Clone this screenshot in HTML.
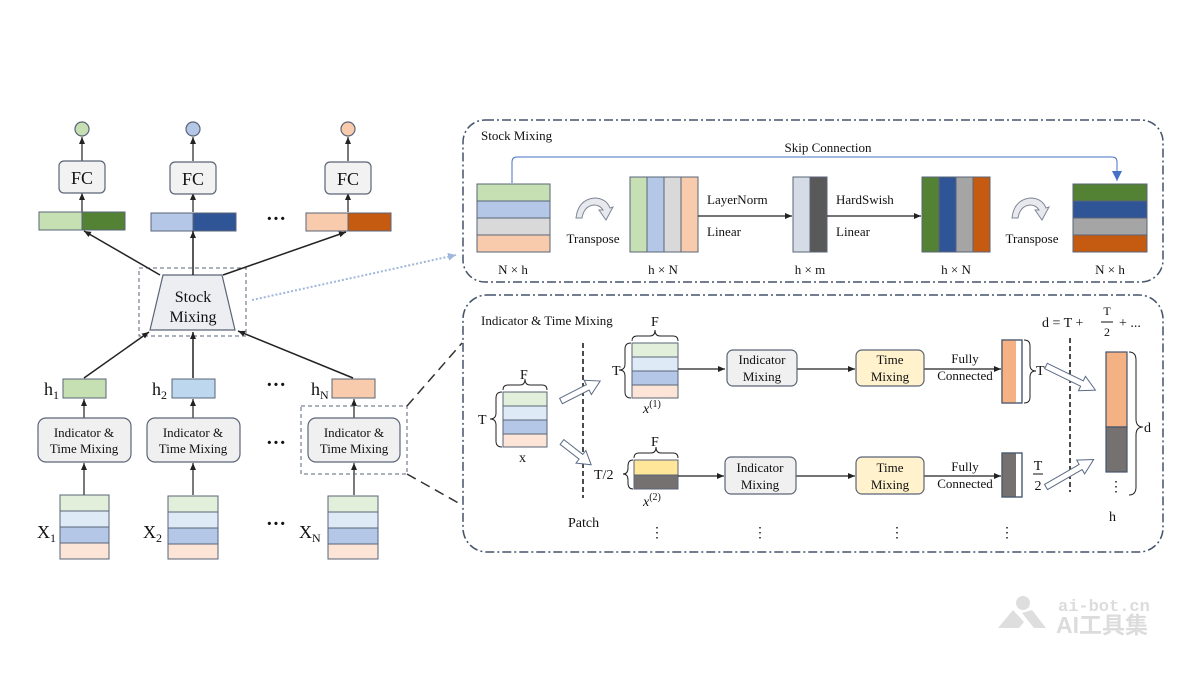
<!DOCTYPE html>
<html><head><meta charset="utf-8"><style>
html,body{margin:0;padding:0;background:#fff}
svg{display:block}
text{font-family:"Liberation Serif","Noto Serif CJK SC",serif;fill:#111}
</style></head><body>
<svg width="1200" height="675" viewBox="0 0 1200 675" xmlns="http://www.w3.org/2000/svg">
<defs>
<marker id="ah" markerWidth="8" markerHeight="8" refX="7" refY="4" orient="auto" markerUnits="userSpaceOnUse"><path d="M0,1 L7,4 L0,7 z" fill="#222"/></marker>
<marker id="ahb" markerWidth="12" markerHeight="12" refX="10" refY="6" orient="auto" markerUnits="userSpaceOnUse"><path d="M0,1 L10,6 L0,11 z" fill="#4472c4"/></marker>
<marker id="ahl" markerWidth="10" markerHeight="10" refX="8" refY="5" orient="auto" markerUnits="userSpaceOnUse"><path d="M0,1 L8,5 L0,9 z" fill="#9fb7da"/></marker>
</defs>

<!-- ===== LEFT ===== -->
<g stroke="#5a6477" stroke-width="1.2">
<circle cx="82" cy="129" r="7" fill="#c6e0b4"/>
<circle cx="193" cy="129" r="7" fill="#b4c7e7"/>
<circle cx="348" cy="129" r="7" fill="#f8cbad"/>
</g>
<g stroke="#222" stroke-width="1.2" marker-end="url(#ah)">
<line x1="82" y1="161" x2="82" y2="137"/><line x1="193" y1="161" x2="193" y2="137"/><line x1="348" y1="161" x2="348" y2="137"/>
<line x1="82" y1="212" x2="82" y2="193"/><line x1="193" y1="212" x2="193" y2="193"/><line x1="348" y1="212" x2="348" y2="193"/>
</g>
<g fill="#f2f2f2" stroke="#5a6477" stroke-width="1.2">
<rect x="59" y="161" width="46" height="32" rx="5"/>
<rect x="170" y="162" width="46" height="32" rx="5"/>
<rect x="325" y="162" width="46" height="32" rx="5"/>
</g>
<g font-size="18" text-anchor="middle"><text x="82" y="184">FC</text><text x="193" y="185">FC</text><text x="348" y="185">FC</text></g>

<g stroke="#5a6477" stroke-width="1">
<rect x="39" y="212" width="43" height="18" fill="#c6e0b4"/><rect x="82" y="212" width="43" height="18" fill="#548235"/>
<rect x="151" y="213" width="42" height="18" fill="#b4c7e7"/><rect x="193" y="213" width="43" height="18" fill="#2f5597"/>
<rect x="306" y="213" width="42" height="18" fill="#f8cbad"/><rect x="348" y="213" width="43" height="18" fill="#c55a11"/>
</g>
<text x="276" y="225" font-size="20" text-anchor="middle" font-weight="bold">···</text>

<rect x="139" y="268" width="107" height="68" fill="none" stroke="#5a6477" stroke-dasharray="4,3"/>
<path d="M163,275 L222,275 L235,330 L150,330 Z" fill="#eceef1" stroke="#5a6477" stroke-width="1.2"/>
<text x="193" y="302" font-size="16" text-anchor="middle">Stock</text>
<text x="193" y="322" font-size="16" text-anchor="middle">Mixing</text>
<g stroke="#222" stroke-width="1.5" marker-end="url(#ah)">
<line x1="160" y1="275" x2="84" y2="231"/>
<line x1="193" y1="275" x2="193" y2="231"/>
<line x1="223" y1="275" x2="346" y2="232"/>
<line x1="84" y1="378" x2="149" y2="332"/>
<line x1="193" y1="378" x2="193" y2="332"/>
<line x1="353" y1="378" x2="238" y2="331"/>
</g>
<line x1="252" y1="300" x2="456" y2="255" stroke="#9fb7da" stroke-width="2" stroke-dasharray="2,2" marker-end="url(#ahl)"/>

<g stroke="#5a6477" stroke-width="1">
<rect x="63" y="379" width="43" height="19" fill="#c6e0b4"/>
<rect x="172" y="379" width="43" height="19" fill="#bdd7ee"/>
<rect x="332" y="379" width="43" height="19" fill="#f8cbad"/>
</g>
<text x="44" y="395" font-size="18">h<tspan font-size="12" dy="4">1</tspan></text>
<text x="152" y="395" font-size="18">h<tspan font-size="12" dy="4">2</tspan></text>
<text x="311" y="395" font-size="18">h<tspan font-size="12" dy="4">N</tspan></text>
<text x="276" y="391" font-size="20" text-anchor="middle" font-weight="bold">···</text>

<g stroke="#222" stroke-width="1.2" marker-end="url(#ah)">
<line x1="84" y1="418" x2="84" y2="399"/><line x1="193" y1="418" x2="193" y2="399"/><line x1="354" y1="418" x2="354" y2="399"/>
<line x1="84" y1="495" x2="84" y2="463"/><line x1="193" y1="495" x2="193" y2="463"/><line x1="354" y1="495" x2="354" y2="463"/>
</g>
<rect x="301" y="406" width="106" height="68" fill="none" stroke="#5a6477" stroke-dasharray="4,3"/>
<g fill="#f0f0f0" stroke="#5a6477" stroke-width="1.2">
<rect x="38" y="418" width="93" height="44" rx="8"/>
<rect x="147" y="418" width="93" height="44" rx="8"/>
<rect x="308" y="418" width="92" height="44" rx="8"/>
</g>
<g font-size="13" text-anchor="middle">
<text x="84" y="437">Indicator &amp;</text><text x="84" y="453">Time Mixing</text>
<text x="193" y="437">Indicator &amp;</text><text x="193" y="453">Time Mixing</text>
<text x="354" y="437">Indicator &amp;</text><text x="354" y="453">Time Mixing</text>
</g>
<text x="276" y="449" font-size="20" text-anchor="middle" font-weight="bold">···</text>

<g stroke="#5a6477" stroke-width="1">
<rect x="60" y="495" width="49" height="16" fill="#e2efda"/><rect x="60" y="511" width="49" height="16" fill="#deebf7"/><rect x="60" y="527" width="49" height="16" fill="#b4c7e7"/><rect x="60" y="543" width="49" height="16" fill="#fce4d6"/>
<rect x="168" y="496" width="50" height="16" fill="#e2efda"/><rect x="168" y="512" width="50" height="16" fill="#deebf7"/><rect x="168" y="528" width="50" height="16" fill="#b4c7e7"/><rect x="168" y="544" width="50" height="15" fill="#fce4d6"/>
<rect x="328" y="496" width="50" height="16" fill="#e2efda"/><rect x="328" y="512" width="50" height="16" fill="#deebf7"/><rect x="328" y="528" width="50" height="16" fill="#b4c7e7"/><rect x="328" y="544" width="50" height="15" fill="#fce4d6"/>
</g>
<text x="37" y="538" font-size="18">X<tspan font-size="12" dy="4">1</tspan></text>
<text x="143" y="538" font-size="18">X<tspan font-size="12" dy="4">2</tspan></text>
<text x="299" y="538" font-size="18">X<tspan font-size="12" dy="4">N</tspan></text>
<text x="276" y="530" font-size="20" text-anchor="middle" font-weight="bold">···</text>

<g stroke="#333" stroke-width="1.5" stroke-dasharray="10,6">
<line x1="407" y1="406" x2="462" y2="343"/>
<line x1="407" y1="474" x2="462" y2="505"/>
</g>

<!-- ===== TOP RIGHT PANEL ===== -->
<rect x="463" y="120" width="700" height="162" rx="22" fill="none" stroke="#44546a" stroke-width="1.5" stroke-dasharray="9,3,2,3"/>
<text x="481" y="140" font-size="13">Stock Mixing</text>
<text x="828" y="152" font-size="13" text-anchor="middle">Skip Connection</text>
<path d="M512,183 L512,162 Q512,157 517,157 L1112,157 Q1117,157 1117,162 L1117,181" fill="none" stroke="#4472c4" stroke-width="1" marker-end="url(#ahb)"/>
<g stroke="#5a6477" stroke-width="1">
<rect x="477" y="184" width="73" height="17" fill="#c6e0b4"/><rect x="477" y="201" width="73" height="17" fill="#b4c7e7"/><rect x="477" y="218" width="73" height="17" fill="#d9d9d9"/><rect x="477" y="235" width="73" height="17" fill="#f8cbad"/>
<rect x="630" y="177" width="17" height="75" fill="#c6e0b4"/><rect x="647" y="177" width="17" height="75" fill="#b4c7e7"/><rect x="664" y="177" width="17" height="75" fill="#d9d9d9"/><rect x="681" y="177" width="17" height="75" fill="#f8cbad"/>
<rect x="793" y="177" width="17" height="75" fill="#d6dce5"/><rect x="810" y="177" width="17" height="75" fill="#595959"/>
<rect x="922" y="177" width="17" height="75" fill="#548235"/><rect x="939" y="177" width="17" height="75" fill="#2f5597"/><rect x="956" y="177" width="17" height="75" fill="#a5a5a5"/><rect x="973" y="177" width="17" height="75" fill="#c55a11"/>
<rect x="1073" y="184" width="74" height="17" fill="#548235"/><rect x="1073" y="201" width="74" height="17" fill="#2f5597"/><rect x="1073" y="218" width="74" height="17" fill="#a5a5a5"/><rect x="1073" y="235" width="74" height="17" fill="#c55a11"/>
</g>
<g stroke="#222" stroke-width="1.2" marker-end="url(#ah)">
<line x1="698" y1="216" x2="792" y2="216"/>
<line x1="827" y1="216" x2="921" y2="216"/>
</g>
<g font-size="13">
<text x="707" y="204">LayerNorm</text><text x="707" y="236">Linear</text>
<text x="836" y="204">HardSwish</text><text x="836" y="236">Linear</text>
<text x="593" y="243" text-anchor="middle">Transpose</text>
<text x="1032" y="243" text-anchor="middle">Transpose</text>
</g>
<g font-size="13" text-anchor="middle">
<text x="513" y="274">N × h</text><text x="663" y="274">h × N</text><text x="810" y="274">h × m</text><text x="956" y="274">h × N</text><text x="1110" y="274">N × h</text>
</g>
<g fill="#e7e9ee" stroke="#7f8796" stroke-width="1">
<path d="M576,218 Q578,200 594,198 Q606,198 610,208 L613,207 L606,220 L599,210 L603,210 Q600,205 594,205 Q584,206 582,218 Z"/>
<path d="M1012,218 Q1014,200 1030,198 Q1042,198 1046,208 L1049,207 L1042,220 L1035,210 L1039,210 Q1036,205 1030,205 Q1020,206 1018,218 Z"/>
</g>

<!-- ===== BOTTOM RIGHT PANEL ===== -->
<rect x="463" y="295" width="700" height="257" rx="24" fill="none" stroke="#44546a" stroke-width="1.5" stroke-dasharray="9,3,2,3"/>
<text x="481" y="325" font-size="13">Indicator &amp; Time Mixing</text>

<g stroke="#5a6477" stroke-width="1">
<rect x="503" y="392" width="44" height="14" fill="#e2efda"/><rect x="503" y="406" width="44" height="14" fill="#deebf7"/><rect x="503" y="420" width="44" height="14" fill="#b4c7e7"/><rect x="503" y="434" width="44" height="13" fill="#fce4d6"/>
<rect x="632" y="343" width="46" height="14" fill="#e2efda"/><rect x="632" y="357" width="46" height="14" fill="#deebf7"/><rect x="632" y="371" width="46" height="14" fill="#b4c7e7"/><rect x="632" y="385" width="46" height="13" fill="#fce4d6"/>
<rect x="634" y="460" width="44" height="15" fill="#ffe699"/><rect x="634" y="475" width="44" height="14" fill="#767171"/>
</g>
<g fill="none" stroke="#222" stroke-width="1">
<path d="M503,390 Q503,385 508,385 L520,385 Q525,385 525,379 Q525,385 530,385 L542,385 Q547,385 547,390"/>
<path d="M502,392 Q496,392 496,398 L496,413 Q496,419 490,419 Q496,419 496,425 L496,441 Q496,447 502,447"/>
<path d="M632,341 Q632,336 637,336 L650,336 Q655,336 655,330 Q655,336 660,336 L673,336 Q678,336 678,341"/>
<path d="M631,343 Q625,343 625,349 L625,364 Q625,370 619,370 Q625,370 625,376 L625,392 Q625,398 631,398"/>
<path d="M634,458 Q634,453 639,453 L651,453 Q656,453 656,447 Q656,453 661,453 L673,453 Q678,453 678,458"/>
<path d="M633,460 Q628,460 628,466 L628,468 Q628,474 623,474 Q628,474 628,480 L628,483 Q628,489 633,489"/>
<path d="M1024,340 Q1030,340 1030,346 L1030,365 Q1030,371 1036,371 Q1030,371 1030,377 L1030,397 Q1030,403 1024,403"/>
<path d="M1129,352 Q1136,352 1136,360 L1136,419 Q1136,427 1143,427 Q1136,427 1136,435 L1136,487 Q1136,495 1129,495"/>
</g>
<g font-size="14">
<text x="520" y="379">F</text><text x="478" y="424">T</text><text x="519" y="462">x</text>
<text x="651" y="326">F</text><text x="612" y="375">T</text>
<text x="651" y="446">F</text><text x="594" y="479">T/2</text>
<text x="1036" y="375">T</text>
<text x="1144" y="432">d</text>
<text x="1109" y="521">h</text>
<text x="568" y="527">Patch</text>
</g>
<text x="643" y="413" font-size="14" font-style="italic">x<tspan font-size="10" font-style="normal" dy="-6">(1)</tspan></text>
<text x="643" y="506" font-size="14" font-style="italic">x<tspan font-size="10" font-style="normal" dy="-6">(2)</tspan></text>

<line x1="583" y1="343" x2="583" y2="498" stroke="#111" stroke-width="1.5" stroke-dasharray="5,3"/>
<line x1="1070" y1="338" x2="1070" y2="492" stroke="#111" stroke-width="1.5" stroke-dasharray="5,3"/>

<g fill="#fff" stroke="#5a6a85" stroke-width="1">
<polygon points="0,-3 30,-3 30,-8 44,0 30,8 30,3 0,3" transform="translate(561,401) rotate(-27)"/>
<polygon points="0,-3 24,-3 24,-8 37,0 24,8 24,3 0,3" transform="translate(562,442) rotate(38)"/>
<polygon points="0,-3 40,-3 40,-8 55,0 40,8 40,3 0,3" transform="translate(1046,366) rotate(26)"/>
<polygon points="0,-3 40,-3 40,-8 55,0 40,8 40,3 0,3" transform="translate(1046,487) rotate(-30)"/>
</g>

<g stroke="#222" stroke-width="1.2" marker-end="url(#ah)">
<line x1="678" y1="369" x2="725" y2="369"/>
<line x1="797" y1="369" x2="855" y2="369"/>
<line x1="924" y1="369" x2="1001" y2="369"/>
<line x1="678" y1="476" x2="724" y2="476"/>
<line x1="796" y1="476" x2="855" y2="476"/>
<line x1="924" y1="476" x2="1001" y2="476"/>
</g>
<g stroke="#5a6477" stroke-width="1.2">
<rect x="727" y="350" width="70" height="36" rx="6" fill="#f0f0f0"/>
<rect x="856" y="350" width="68" height="36" rx="6" fill="#fff2cc"/>
<rect x="725" y="457" width="71" height="37" rx="6" fill="#f0f0f0"/>
<rect x="856" y="457" width="68" height="37" rx="6" fill="#fff2cc"/>
</g>
<g font-size="13" text-anchor="middle">
<text x="762" y="364">Indicator</text><text x="762" y="381">Mixing</text>
<text x="890" y="364">Time</text><text x="890" y="381">Mixing</text>
<text x="760" y="472">Indicator</text><text x="760" y="489">Mixing</text>
<text x="890" y="472">Time</text><text x="890" y="489">Mixing</text>
<text x="965" y="363">Fully</text><text x="965" y="380">Connected</text>
<text x="965" y="471">Fully</text><text x="965" y="488">Connected</text>
</g>
<g stroke="#44546a" stroke-width="1.2">
<rect x="1002" y="340" width="20" height="63" fill="#fff"/><rect x="1002" y="340" width="14" height="63" fill="#f4b183" stroke="none"/><rect x="1002" y="340" width="20" height="63" fill="none"/>
<rect x="1002" y="453" width="20" height="44" fill="#fff"/><rect x="1002" y="453" width="14" height="44" fill="#767171" stroke="none"/><rect x="1002" y="453" width="20" height="44" fill="none"/>
<rect x="1106" y="352" width="21" height="75" fill="#f4b183"/>
<rect x="1106" y="427" width="21" height="45" fill="#767171"/>
</g>
<g font-size="14" text-anchor="middle">
<text x="1038" y="470">T</text><line x1="1033" y1="474" x2="1043" y2="474" stroke="#111"/><text x="1038" y="490">2</text>
<text x="1116" y="491">⋮</text>
<text x="657" y="537">⋮</text><text x="760" y="537">⋮</text><text x="897" y="537">⋮</text><text x="1007" y="537">⋮</text>
</g>
<text x="1042" y="327" font-size="14">d = T +</text>
<g font-size="12" text-anchor="middle"><text x="1107" y="315">T</text><text x="1107" y="336">2</text></g>
<line x1="1101" y1="322" x2="1113" y2="322" stroke="#111"/>
<text x="1119" y="327" font-size="14">+ ...</text>

<g fill="#dedede">
<circle cx="1023" cy="603" r="7"/>
<path d="M998,628 L1013,610 L1024,622 L1019,628 Z"/>
<path d="M1022,613 L1034,628 L1046,628 L1032,610 Z"/>
</g>
<text x="1058" y="611" font-size="17" style="fill:#dcdcdc;font-family:'Liberation Mono',monospace;font-weight:bold">ai-bot.cn</text>
<text x="1056" y="633" font-size="23" style="fill:#dcdcdc;font-family:'Liberation Sans','Noto Sans CJK SC',sans-serif;font-weight:bold">AI工具集</text>
</svg>
</body></html>
